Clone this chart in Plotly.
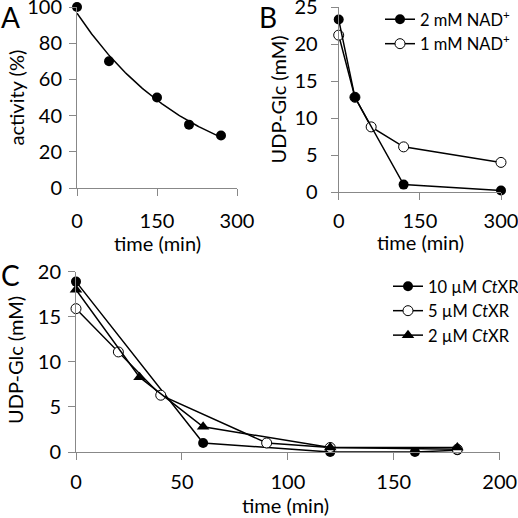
import numpy as np
import plotly.graph_objects as go

# ---- data ----
a_time = [0, 60, 150, 210, 270]
a_activity = [100, 70, 50, 35, 29]

b_time = [0, 30, 120, 300]
b_2mM = [23.3, 12.8, 1.0, 0.2]
b_time_1 = [0, 30, 60, 120, 300]
b_1mM = [21.2, 12.8, 8.8, 6.1, 4.0]

c_time_10 = [0, 60, 120, 160, 180]
c_10uM = [18.9, 1.0, 0.0, 0.0, 0.2]
c_time_5 = [0, 20, 40, 90, 120, 180]
c_5uM = [15.9, 11.1, 6.3, 1.0, 0.5, 0.3]
c_time_2 = [0, 30, 60, 120, 180]
c_2uM = [18.0, 8.3, 2.8, 0.5, 0.5]

# exponential trendline for panel A (log-linear fit of the data)
k, lnA = np.polyfit(a_time, np.log(a_activity), 1)
fit_t = np.linspace(0, max(a_time), 120)
fit_y = np.exp(lnA) * np.exp(k * fit_t)

W = H = 518
FONT = "Lato"
FS = 20
LFS = 16.5
AX = "#888888"


def px(v):
    return v / W


def py(v):
    return 1 - v / H


fig = go.Figure()

# Panel A
fig.add_trace(go.Scatter(x=fit_t, y=fit_y, mode="lines", line=dict(color="black", width=1.5),
                         xaxis="x", yaxis="y", showlegend=False, hoverinfo="skip", cliponaxis=False))
fig.add_trace(go.Scatter(x=a_time, y=a_activity, mode="markers",
                         marker=dict(color="black", size=10, symbol="circle"),
                         xaxis="x", yaxis="y", showlegend=False, cliponaxis=False))

# Panel B
fig.add_trace(go.Scatter(x=b_time_1, y=b_1mM, mode="lines+markers", name="1 mM NAD<sup>+</sup>",
                         line=dict(color="black", width=1.5),
                         marker=dict(color="white", size=10, symbol="circle", line=dict(color="black", width=1)),
                         xaxis="x2", yaxis="y2", legend="legend", legendrank=2, cliponaxis=False))
fig.add_trace(go.Scatter(x=b_time, y=b_2mM, mode="lines+markers", name="2 mM NAD<sup>+</sup>",
                         line=dict(color="black", width=1.5),
                         marker=dict(color="black", size=10, symbol="circle"),
                         xaxis="x2", yaxis="y2", legend="legend", legendrank=1, cliponaxis=False))

# Panel C
fig.add_trace(go.Scatter(x=c_time_10, y=c_10uM, mode="lines+markers", name="10 µM <i>Ct</i>XR",
                         line=dict(color="black", width=1.5),
                         marker=dict(color="black", size=10, symbol="circle"),
                         xaxis="x3", yaxis="y3", legend="legend2", legendrank=1, cliponaxis=False))
fig.add_trace(go.Scatter(x=c_time_5, y=c_5uM, mode="lines+markers", name="5 µM <i>Ct</i>XR",
                         line=dict(color="black", width=1.5),
                         marker=dict(color="white", size=10, symbol="circle", line=dict(color="black", width=1)),
                         xaxis="x3", yaxis="y3", legend="legend2", legendrank=2, cliponaxis=False))
fig.add_trace(go.Scatter(x=c_time_2, y=c_2uM, mode="lines+markers", name="2 µM <i>Ct</i>XR",
                         line=dict(color="black", width=1.5),
                         marker=dict(color="black", size=11, symbol="triangle-up"),
                         xaxis="x3", yaxis="y3", legend="legend2", legendrank=3, cliponaxis=False))


def xaxis(dom, rng, dtick, anchor, standoff):
    return dict(domain=[px(dom[0]), px(dom[1])], range=rng, dtick=dtick, tick0=0,
                anchor=anchor, showline=True, linecolor=AX, linewidth=1, showgrid=False,
                zeroline=False, ticks="outside", ticklen=7, tickcolor=AX, tickwidth=1,
                automargin=False, ticklabeloverflow="allow",
                ticklabelstandoff=standoff, tickfont=dict(family=FONT, size=FS, color="black"))


def yaxis(dom, rng, dtick, anchor, standoff):
    return dict(domain=[py(dom[1]), py(dom[0])], range=rng, dtick=dtick, tick0=0,
                anchor=anchor, showline=True, linecolor=AX, linewidth=1, showgrid=False,
                zeroline=False, ticks="outside", ticklen=7, tickcolor=AX, tickwidth=1,
                automargin=False, ticklabeloverflow="allow", ticklabelstandoff=standoff,
                tickfont=dict(family=FONT, size=FS, color="black"))


def label(text, x, y, size=FS, angle=0, xanchor="center", yanchor="middle"):
    return dict(text=text, x=px(x), y=py(y), xref="paper", yref="paper", xanchor=xanchor,
                yanchor=yanchor, showarrow=False, textangle=angle,
                font=dict(family=FONT, size=size, color="black"))


fig.update_layout(
    width=W, height=H, margin=dict(l=0, r=0, t=0, b=0, autoexpand=False),
    paper_bgcolor="white", plot_bgcolor="white",
    font=dict(family=FONT, size=FS, color="black"),
    xaxis=xaxis((77, 237), [0, 300], 150, "y", 8),
    yaxis=yaxis((7, 188), [0, 100], 20, "x", 3),
    xaxis2=xaxis((338.7, 501), [0, 300], 150, "y2", 4),
    yaxis2=yaxis((7, 192), [0, 25], 5, "x2", 9),
    xaxis3=xaxis((76, 499.7), [0, 200], 50, "y3", 5),
    yaxis3=yaxis((271.7, 452), [0, 20], 5, "x3", 3),
    legend=dict(x=px(380), y=py(2), xanchor="left", yanchor="top", bgcolor="rgba(0,0,0,0)",
                font=dict(family=FONT, size=LFS), tracegroupgap=0, itemwidth=30),
    legend2=dict(x=px(388), y=py(269), xanchor="left", yanchor="top", bgcolor="rgba(0,0,0,0)",
                 font=dict(family=FONT, size=LFS), tracegroupgap=0, itemwidth=30),
    annotations=[
        label("A", -1, -2, size=28, xanchor="left", yanchor="top"),
        label("B", 257, -2, size=28, xanchor="left", yanchor="top"),
        label("C", -1, 256, size=28, xanchor="left", yanchor="top"),
        # axis titles
        label("activity (%)", 15, 97.5, angle=-90),
        label("time (min)", 157, 243),
        label("UDP-Glc (mM)", 277, 99.5, angle=-90),
        label("time (min)", 420, 242),
        label("UDP-Glc (mM)", 15, 360, angle=-90),
        label("time (min)", 285, 505),
    ],
)

fig.write_html("out.html", config={"displayModeBar": False},
               post_script="document.body.style.margin='0';document.body.style.overflow='hidden';")
